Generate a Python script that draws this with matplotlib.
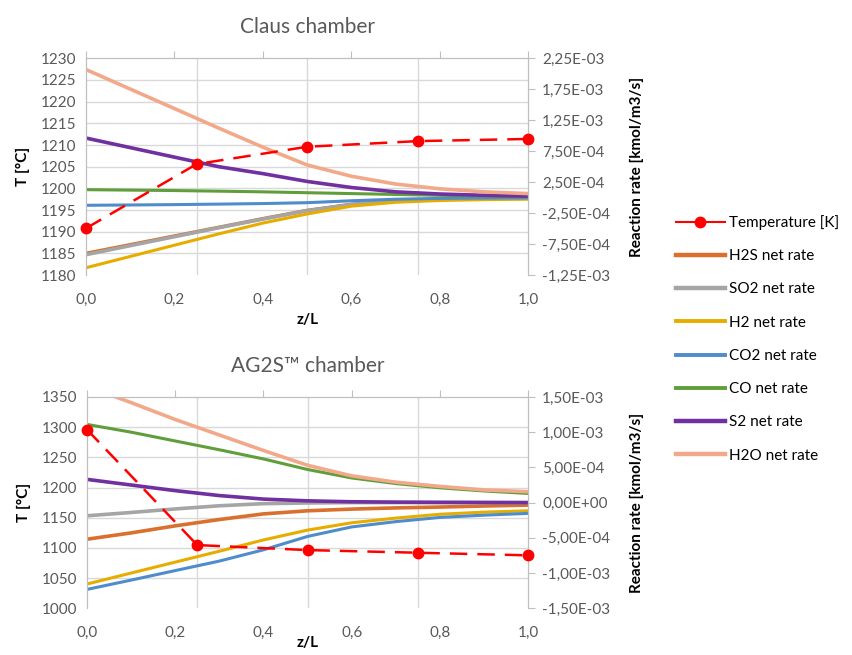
import matplotlib
matplotlib.use("Agg")
import matplotlib.pyplot as plt
import numpy as np
from matplotlib.ticker import FuncFormatter, MultipleLocator
from matplotlib.lines import Line2D

plt.rcParams['font.family'] = ['Lato', 'DejaVu Sans']

# positions along the chamber
z = [0.0, 0.1, 0.2, 0.3, 0.4, 0.5, 0.6, 0.7, 0.8, 0.9, 1.0]
z_temp = [0.0, 0.25, 0.5, 0.75, 1.0]

# Claus chamber
claus_T = [1190.8, 1205.6, 1209.6, 1210.9, 1211.4]
claus_h2s = [-0.90, -0.76, -0.62, -0.48, -0.34, -0.207, -0.109, -0.053, -0.025, -0.011, -0.004]
claus_so2 = [-0.92, -0.775, -0.63, -0.485, -0.345, -0.21, -0.112, -0.055, -0.027, -0.013, -0.006]
claus_h2 = [-1.131, -0.949, -0.767, -0.585, -0.41, -0.263, -0.137, -0.074, -0.046, -0.032, -0.025]
claus_co2 = [-0.123, -0.118, -0.112, -0.104, -0.095, -0.081, -0.05, -0.025, -0.012, -0.006, -0.004]
claus_co = [0.129, 0.122, 0.115, 0.105, 0.094, 0.08, 0.066, 0.052, 0.038, 0.027, 0.017]
claus_s2 = [0.962, 0.808, 0.654, 0.5, 0.388, 0.262, 0.164, 0.094, 0.059, 0.038, 0.024]
claus_h2o = [2.068, 1.753, 1.438, 1.123, 0.815, 0.528, 0.346, 0.22, 0.143, 0.094, 0.066]

# AG2S chamber
ag2s_T = [1296.0, 1104.7, 1096.4, 1092.0, 1087.7]
ag2s_h2s = [-0.52, -0.43, -0.33, -0.24, -0.16, -0.116, -0.092, -0.075, -0.063, -0.048, -0.035]
ag2s_so2 = [-0.187, -0.14, -0.09, -0.045, -0.015, -0.005, 0.0, 0.0, 0.0, 0.0, 0.0]
ag2s_h2 = [-1.156, -1.0, -0.845, -0.69, -0.53, -0.39, -0.286, -0.22, -0.165, -0.135, -0.116]
ag2s_co2 = [-1.232, -1.1, -0.965, -0.83, -0.67, -0.48, -0.345, -0.27, -0.21, -0.178, -0.153]
ag2s_co = [1.11, 1.0, 0.875, 0.75, 0.62, 0.47, 0.35, 0.27, 0.21, 0.165, 0.13]
ag2s_s2 = [0.33, 0.25, 0.17, 0.10, 0.05, 0.025, 0.012, 0.007, 0.004, 0.002, 0.0]
ag2s_h2o = [1.65, 1.42, 1.18, 0.96, 0.74, 0.53, 0.38, 0.29, 0.23, 0.18, 0.155]

names = ['H2S net rate', 'SO2 net rate', 'H2 net rate', 'CO2 net rate',
         'CO net rate', 'S2 net rate', 'H2O net rate']
colors = ['#d9702e', '#a5a5a5', '#e6ad00', '#4e8ccb', '#5f9e3a', '#7030a0', '#f2a98a']
widths = [2.6, 2.6, 2.2, 2.2, 2.2, 2.6, 2.6]

grey = '#595959'
spine_c = '#bfbfbf'
grid_c = '#d9d9d9'
fs = 11

def comma1(v, pos):
    return f"{v:.1f}".replace('.', ',')

def sci(v, pos):
    return f"{v:.2E}".replace('.', ',')

def panel(rect, title, T, rates, tlim, tstep, rlim, rstep, xpad):
    ax_r = fig.add_axes(rect)
    ax_t = ax_r.twinx()
    ax_r.set_xlim(0, 1)
    ax_r.set_ylim(*rlim)
    ax_t.set_ylim(*tlim)

    for r, c, w in zip(rates, colors, widths):
        ax_r.plot(z, [v * 1e-3 for v in r], color=c, lw=w, solid_capstyle='butt')
    ax_t.plot(z_temp, T, color='#ff0000', lw=1.8, ls=(0, (7, 4)),
              marker='o', ms=7.5, clip_on=False, zorder=5)

    # rate axis on the right
    ax_r.yaxis.tick_right()
    ax_r.yaxis.set_label_position('right')
    ax_r.set_yticks(np.arange(rlim[0], rlim[1] + rstep / 2, rstep))
    ax_r.yaxis.set_major_formatter(FuncFormatter(sci))
    nt = int(round((tlim[1] - tlim[0]) / tstep))
    ax_r.set_yticks(np.linspace(rlim[0], rlim[1], nt + 1), minor=True)
    ax_r.tick_params(axis='y', which='major', length=5, color=spine_c, labelcolor=grey,
                     labelsize=fs, direction='out', pad=5)
    ax_r.tick_params(axis='y', which='minor', length=0)
    ax_r.grid(axis='y', which='minor', color=grid_c, lw=1)

    # x axis: labels at bottom, tick marks on top, grid at data positions
    ax_r.xaxis.set_major_locator(MultipleLocator(0.2))
    ax_r.xaxis.set_major_formatter(FuncFormatter(comma1))
    ax_r.set_xticks(z_temp, minor=True)
    ax_r.tick_params(axis='x', which='major', bottom=False, top=True, labelbottom=True,
                     labeltop=False, length=5, color=spine_c, labelcolor=grey,
                     labelsize=fs, pad=8)
    ax_r.tick_params(axis='x', which='minor', length=0, bottom=False, top=False)
    ax_r.grid(axis='x', which='minor', color=grid_c, lw=1)

    # temperature axis on the left
    ax_t.yaxis.tick_left()
    ax_t.yaxis.set_label_position('left')
    ax_t.yaxis.set_major_locator(MultipleLocator(tstep))
    ax_t.tick_params(axis='y', length=0, labelcolor=grey, labelsize=fs, pad=7)

    for a in (ax_r, ax_t):
        a.spines['bottom'].set_visible(False)
        for s in ('left', 'right', 'top'):
            a.spines[s].set_color(spine_c)

    ax_t.set_ylabel('T [°C]', fontsize=fs, fontweight='bold', labelpad=8)
    ax_r.set_ylabel('Reaction rate [kmol/m3/s]', fontsize=fs, fontweight='bold', labelpad=14)
    ax_r.set_xlabel('z/L', fontsize=fs, fontweight='bold', labelpad=xpad)
    ax_r.set_title(title, fontsize=15, color=grey, pad=18)
    return ax_r


fig = plt.figure(figsize=(8.52, 6.55), dpi=100)

panel([0.101, 0.580, 0.519, 0.331], 'Claus chamber', claus_T,
      [claus_h2s, claus_so2, claus_h2, claus_co2, claus_co, claus_s2, claus_h2o],
      (1180, 1230), 5, (-1.25e-3, 2.25e-3), 5e-4, 4)
panel([0.102, 0.0713, 0.518, 0.3227], 'AG2S™ chamber', ag2s_T,
      [ag2s_h2s, ag2s_so2, ag2s_h2, ag2s_co2, ag2s_co, ag2s_s2, ag2s_h2o],
      (1000, 1350), 50, (-1.5e-3, 1.5e-3), 5e-4, -3)

handles = [Line2D([], [], color='#ff0000', lw=1.5, marker='o', ms=7.5)]
handles += [Line2D([], [], color=c, lw=w + 0.6) for c, w in zip(colors, widths)]
labels = ['Temperature [K]'] + names
fig.legend(handles, labels, loc='upper left', bbox_to_anchor=(0.786, 0.681),
           frameon=False, fontsize=fs, handlelength=3.2, handletextpad=0.3,
           labelspacing=1.26, borderaxespad=0)

fig.savefig('out.png', dpi=100)
